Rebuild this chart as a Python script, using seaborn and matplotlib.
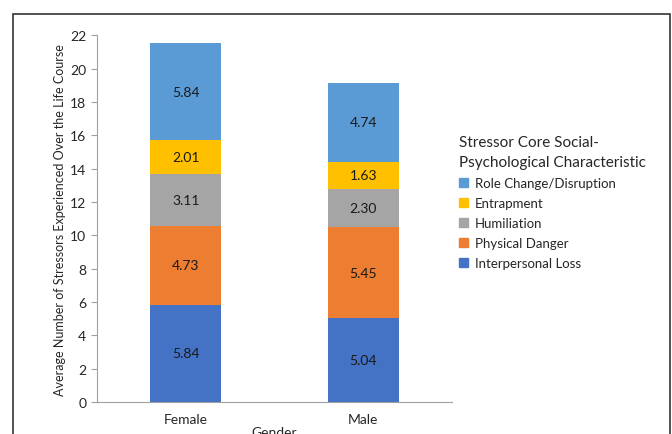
import numpy as np
import pandas as pd
import matplotlib
matplotlib.use("Agg")
import matplotlib.pyplot as plt
import matplotlib.patches as mpatches
import seaborn as sns

genders = ["Female", "Male"]
categories = ["Interpersonal Loss", "Physical Danger", "Humiliation",
              "Entrapment", "Role Change/Disruption"]
female_vals = [5.84, 4.73, 3.11, 2.01, 5.84]
male_vals = [5.04, 5.45, 2.30, 1.63, 4.74]
colors = ["#4472C4", "#ED7D31", "#A5A5A5", "#FFC000", "#5B9BD5"]

sns.set_style("white")
plt.rcParams["font.family"] = ["Lato", "DejaVu Sans"]

df = pd.DataFrame({"Female": female_vals, "Male": male_vals}, index=categories)
cum = df.cumsum()

fig = plt.figure(figsize=(6.72, 4.35), dpi=100)
ax = fig.add_axes([0.144, 0.0736, 0.529, 0.843])

# stacked bars: draw cumulative totals from the top layer down
for cat, col in reversed(list(zip(categories, colors))):
    d = pd.DataFrame({"Gender": genders, "value": cum.loc[cat].values})
    sns.barplot(data=d, x="Gender", y="value", color=col, width=0.4,
                saturation=1, ax=ax, linewidth=0)

# segment labels
for i, g in enumerate(genders):
    base = 0
    for cat in categories:
        v = df.loc[cat, g]
        ax.text(i, base + v / 2, f"{v:.2f}", ha="center", va="center",
                fontsize=10, color="#1a1a1a")
        base += v

ax.set_ylim(0, 22)
ax.set_yticks(np.arange(0, 23, 2))
ax.set_xlim(-0.5, 1.5)
ax.set_xticks([-0.5, 0.5, 1.5], minor=True)
ax.tick_params(axis="x", which="major", length=0, labelsize=10, pad=8)
ax.tick_params(axis="x", which="minor", length=5, color="#a0a0a0", width=0.8)
ax.tick_params(axis="y", length=4, color="#a0a0a0", width=0.8, labelsize=10, left=True)
for s in ["top", "right"]:
    ax.spines[s].set_visible(False)
for s in ["left", "bottom"]:
    ax.spines[s].set_color("#a0a0a0")
    ax.spines[s].set_linewidth(0.8)

ax.set_ylabel("Average Number of Stressors Experienced Over the Life Course",
              fontsize=9, labelpad=3)
ax.set_xlabel("Gender", fontsize=10, labelpad=1)

handles = [mpatches.Patch(color=c, label=l) for l, c in zip(categories, colors)][::-1]
leg = fig.legend(handles=handles, loc="upper left",
                 bbox_to_anchor=(0.665, 0.714), frameon=False,
                 title="Stressor Core Social-\nPsychological Characteristic",
                 fontsize=9.5, title_fontsize=11, handlelength=0.7,
                 handleheight=0.7, handletextpad=0.5, labelspacing=0.6)
leg._legend_box.align = "left"
leg.get_title().set_linespacing(1.55)

# outer frame
fig.add_artist(mpatches.Rectangle((13 / 672, -0.2), (670 - 13) / 672, 1.2 - 15 / 435,
                                  transform=fig.transFigure, fill=False,
                                  edgecolor="#333333", linewidth=1.2, clip_on=False))

fig.savefig("out.png", dpi=100)
